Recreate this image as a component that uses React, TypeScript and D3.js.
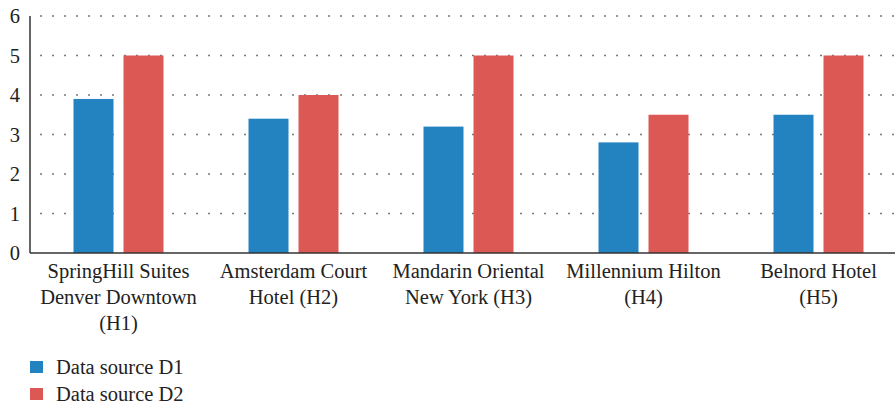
import { useEffect, useRef } from "react";
import * as d3 from "d3";

const WIDTH = 895;
const HEIGHT = 404;

const hotels = [
  ["SpringHill Suites", "Denver Downtown", "(H1)"],
  ["Amsterdam Court", "Hotel (H2)"],
  ["Mandarin Oriental", "New York (H3)"],
  ["Millennium Hilton", "(H4)"],
  ["Belnord Hotel", "(H5)"],
];
const seriesNames = ["Data source D1", "Data source D2"];
const sourceD1 = [3.9, 3.4, 3.2, 2.8, 3.5];
const sourceD2 = [5, 4, 5, 3.5, 5];
const yTicks = [0, 1, 2, 3, 4, 5, 6];
const colors = ["#2383c1", "#dc5855"];

const FONT = "'Liberation Serif', 'DejaVu Serif', serif";
const FS = 20.5;

export default function App() {
  const svgRef = useRef<SVGSVGElement>(null);

  useEffect(() => {
    const svg = d3.select(svgRef.current);
    svg.selectAll("*").remove();

    const left = 30;
    const top = 16;
    const bottom = 253;

    const x = d3
      .scaleBand<number>()
      .domain(d3.range(hotels.length))
      .range([left + 1, left + 876])
      .paddingInner(0)
      .paddingOuter(0);

    const y = d3.scaleLinear().domain([0, 6]).range([bottom, top]);

    // dotted grid
    svg
      .append("g")
      .selectAll("line")
      .data(yTicks.filter((t) => t > 0))
      .join("line")
      .attr("x1", left + 2)
      .attr("x2", WIDTH)
      .attr("y1", (d) => y(d))
      .attr("y2", (d) => y(d))
      .attr("stroke", "#777")
      .attr("stroke-width", 1.3)
      .attr("stroke-dasharray", "2,10")
      .attr("stroke-dashoffset", -8);

    // bars
    const series = [sourceD1, sourceD2];
    const barW = 40;
    const gap = 10;
    series.forEach((vals, si) => {
      svg
        .append("g")
        .selectAll("rect")
        .data(vals)
        .join("rect")
        .attr("x", (_, i) => {
          const c = x(i)! + x.bandwidth() / 2;
          return si === 0 ? c - gap / 2 - barW : c + gap / 2;
        })
        .attr("y", (d) => y(d))
        .attr("width", barW)
        .attr("height", (d) => bottom - y(d))
        .attr("fill", colors[si]);
    });

    // axes lines
    svg
      .append("line")
      .attr("x1", left)
      .attr("x2", left)
      .attr("y1", top)
      .attr("y2", bottom)
      .attr("stroke", "#333")
      .attr("stroke-width", 1.5);
    svg
      .append("line")
      .attr("x1", left)
      .attr("x2", WIDTH)
      .attr("y1", bottom)
      .attr("y2", bottom)
      .attr("stroke", "#333")
      .attr("stroke-width", 1.5);

    // y tick labels
    svg
      .append("g")
      .selectAll("text")
      .data(yTicks)
      .join("text")
      .attr("x", 20)
      .attr("y", (d) => y(d))
      .attr("dy", "0.35em")
      .attr("text-anchor", "end")
      .attr("font-family", FONT)
      .attr("font-size", FS)
      .attr("fill", "#222")
      .text((d) => d);

    // x labels
    const xl = svg
      .append("g")
      .selectAll("text")
      .data(hotels)
      .join("text")
      .attr("x", (_, i) => x(i)! + x.bandwidth() / 2)
      .attr("y", 278)
      .attr("text-anchor", "middle")
      .attr("font-family", FONT)
      .attr("font-size", FS)
      .attr("fill", "#222");
    xl.selectAll("tspan")
      .data((d) => d)
      .join("tspan")
      .attr("x", function () {
        return (this.parentNode as SVGTextElement).getAttribute("x");
      })
      .attr("dy", (_, i) => (i === 0 ? 0 : 26))
      .text((d) => d);

    // legend
    const lg = svg
      .append("g")
      .selectAll("g")
      .data(seriesNames)
      .join("g")
      .attr("transform", (_, i) => `translate(30, ${361 + i * 27})`);
    lg.append("rect")
      .attr("width", 13)
      .attr("height", 12)
      .attr("fill", (_, i) => colors[i]);
    lg.append("text")
      .attr("x", 26)
      .attr("y", 6)
      .attr("dy", "0.35em")
      .attr("font-family", FONT)
      .attr("font-size", FS)
      .attr("fill", "#222")
      .text((d) => d);
  }, []);

  return (
    <svg
      ref={svgRef}
      width={WIDTH}
      height={HEIGHT}
      style={{ position: "absolute", left: 0, top: 0 }}
    />
  );
}
